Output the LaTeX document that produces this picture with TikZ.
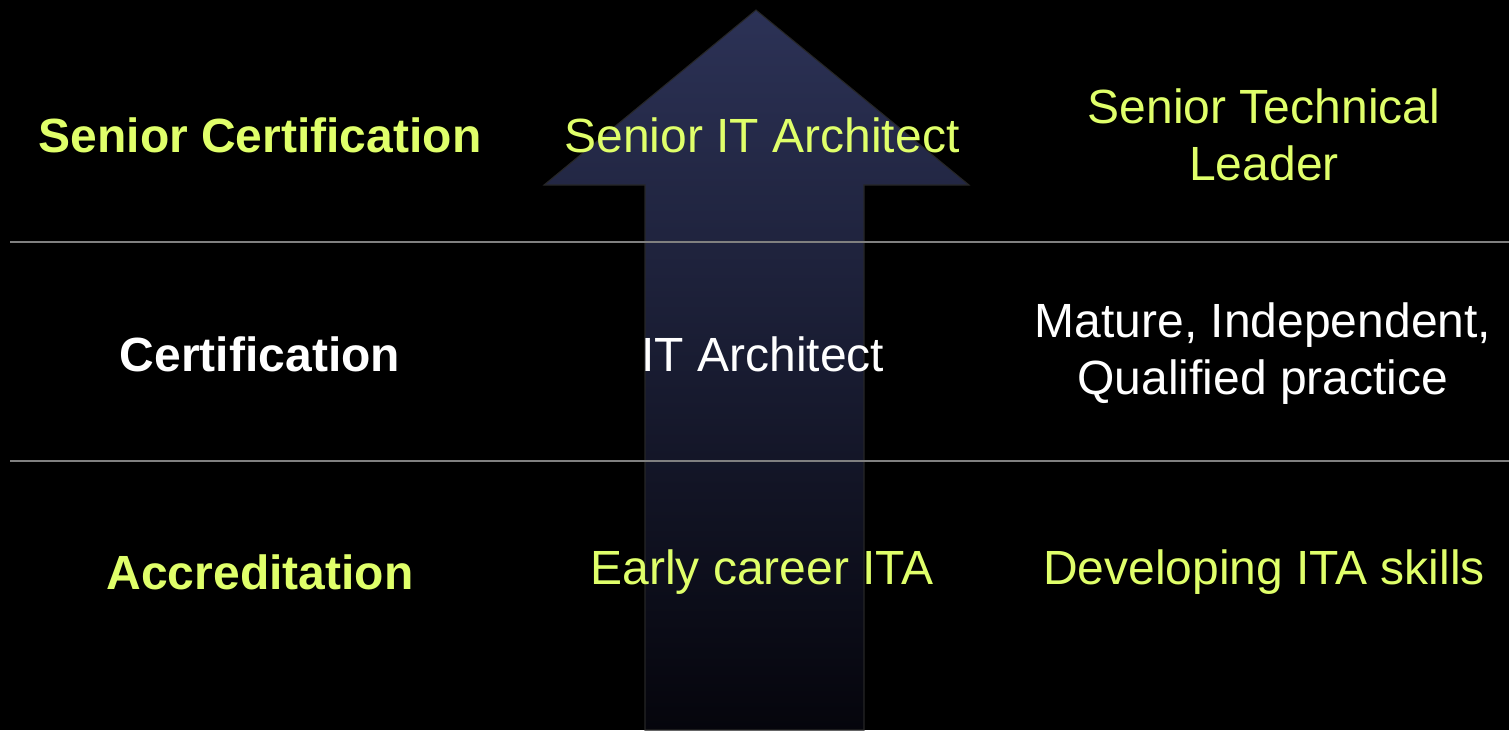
\documentclass[tikz,border=0pt]{standalone}
\usepackage{fontspec}
\setmainfont{Liberation Sans}
\usetikzlibrary{positioning}

\definecolor{lime}{RGB}{224,255,106}
\definecolor{rule}{RGB}{128,128,128}
\definecolor{navytop}{RGB}{44,50,86}
\definecolor{navybot}{RGB}{5,5,12}

\tikzset{
  level/.style = {font=\fontsize{13.65}{16.2}\selectfont\bfseries, text=lime},
  role/.style  = {font=\fontsize{13.65}{16.2}\selectfont, text=lime, align=center},
  divider/.style = {draw=rule, line width=0.6pt}
}

\begin{document}
\begin{tikzpicture}[x=0.01cm, y=-0.01cm]
        \fill [black] (0, 0) rectangle (1509, 730);
        \useasboundingbox (0, 0) rectangle (1509, 730);

        % the arrow
        \shade [top color = navytop, bottom color = navybot, draw = black!85!white, line width = 0.3pt]
          (756, 10) -- (969, 185) -- (864, 185) -- (864, 730)
          -- (645, 730) -- (645, 185) -- (544, 185) -- cycle;

        % dividers
        \coordinate (r1w) at (10, 242);
        \coordinate (r1e) at (1509, 242);
        \coordinate (r2w) at (10, 461);
        \coordinate (r2e) at (1509, 461);
        \draw [divider] (r1w) -- (r1e);
        \draw [divider] (r2w) -- (r2e);

        \node [level] (senior) at (260, 135) {Senior Certification};
        \node [level, text = white] (cert) at (260, 354) {Certification};
        \node [level] (accr) at (260, 572) {Accreditation};

        \node [role] (sita) at (762, 135) {Senior IT Architect};
        \node [role, text = white] (ita) at (763, 354) {IT Architect};
        \node [role] (early) at (762, 572) {Early career ITA};

        \node [role] (stl) at (1264, 135) {Senior Technical\\Leader};
        \node [role, text = white] (mature) at (1263, 354) {Mature, Independent,\\Qualified practice};
        \node [role] (dev) at (1264, 572) {Developing ITA skills};
      \end{tikzpicture}
\end{document}
